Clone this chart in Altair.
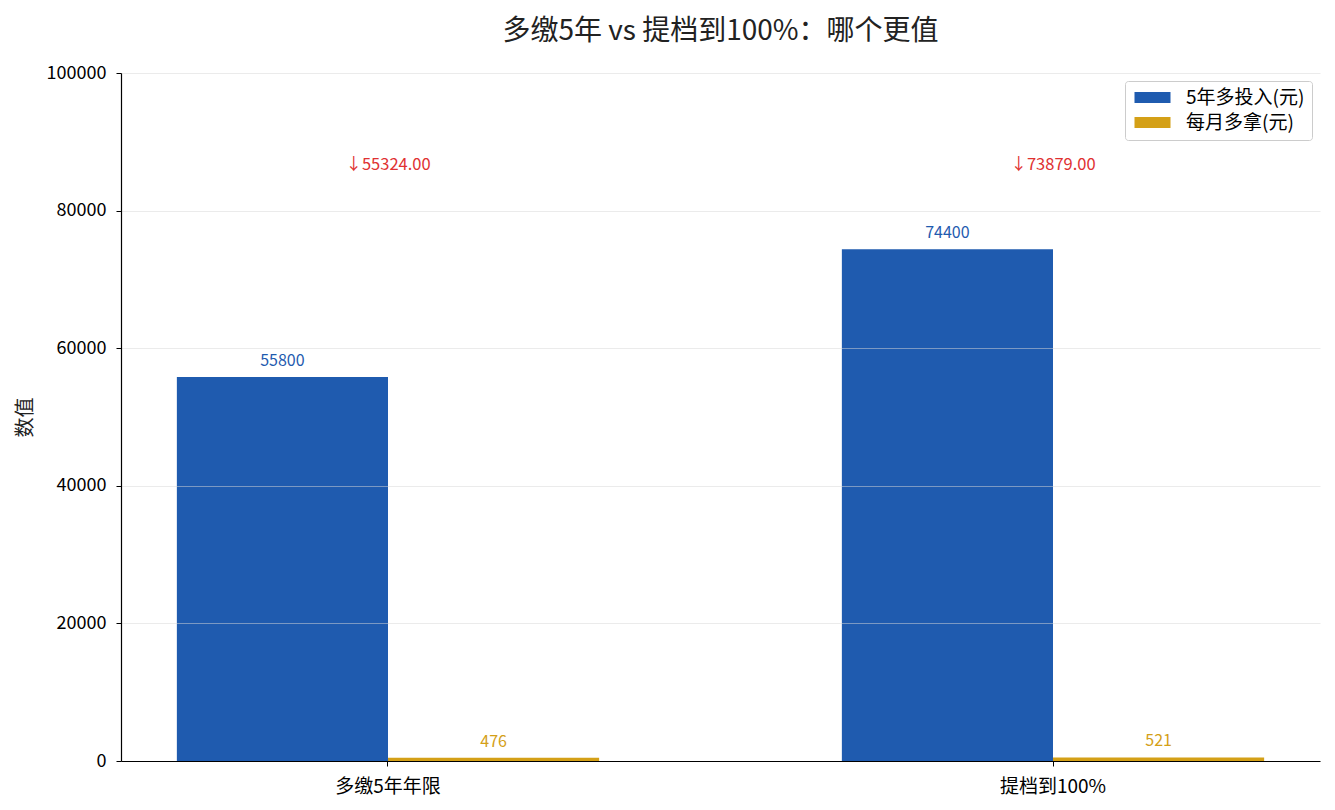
import altair as alt
import pandas as pd

categories = ["多缴5年年限", "提档到100%"]
series_names = ["5年多投入(元)", "每月多拿(元)"]
invest_5y = [55800, 74400]
monthly_gain = [476, 521]
diff_labels = ["↓55324.00", "↓73879.00"]
y_ticks = [0, 20000, 40000, 60000, 80000, 100000]

colors = ["#1f5baf", "#d4a017"]
FONT = "Noto Sans CJK SC"

rows = []
for i, c in enumerate(categories):
    rows.append({"cat": c, "series": series_names[0], "value": invest_5y[i]})
    rows.append({"cat": c, "series": series_names[1], "value": monthly_gain[i]})
df = pd.DataFrame(rows)
ann = pd.DataFrame({"cat": categories, "label": diff_labels,
                    "ypos": [max(invest_5y) * 1.164] * len(categories)})

color_scale = alt.Scale(domain=series_names, range=colors)
x_enc = alt.X("cat:N", sort=categories, title=None,
              scale=alt.Scale(paddingInner=0.365, paddingOuter=0.084),
              axis=alt.Axis(labelAngle=0, labelFontSize=19, labelFont=FONT, labelColor="#000",
                            domainColor="#000", domainWidth=1.2, tickColor="#000", tickSize=5,
                            labelPadding=11, grid=False, zindex=1))
y_scale = alt.Scale(domain=[0, 100000], nice=False)
xoff = alt.XOffset("series:N", sort=series_names, scale=alt.Scale(paddingInner=0, paddingOuter=0))

bars = alt.Chart(df).mark_bar().encode(
    x=x_enc,
    xOffset=xoff,
    y=alt.Y("value:Q", scale=y_scale, title="数值",
            axis=alt.Axis(values=y_ticks, format="d", labelFontSize=18, labelFont=FONT, labelColor="#000",
                          domainColor="#000", domainWidth=1.2, tickColor="#000", tickSize=5,
                          labelPadding=10, gridColor="#d8d8d8", gridOpacity=0.5, gridWidth=1,
                          titleFontSize=20, titleFont=FONT, titleColor="#222", titleFontWeight="normal",
                          titleX=-96, titleY=344, titleAlign="center", titleBaseline="middle",
                          zindex=1)),
    color=alt.Color("series:N", scale=color_scale, sort=series_names,
                    legend=alt.Legend(title=None, orient="top-right", offset=8,
                                      symbolType="M-2,-0.6L2,-0.6L2,0.6L-2,0.6Z", symbolSize=324,
                                      symbolOffset=11, symbolStrokeWidth=0,
                                      labelFontSize=19, labelFont=FONT,
                                      labelColor="#000", labelOffset=24, rowPadding=5,
                                      padding=7, strokeColor="#cccccc", fillColor="white",
                                      cornerRadius=3)),
)

vals = alt.Chart(df).mark_text(baseline="alphabetic", dy=-11, fontSize=16, font=FONT).encode(
    x=alt.X("cat:N", sort=categories),
    xOffset=xoff,
    y=alt.Y("value:Q", scale=y_scale),
    text=alt.Text("value:Q", format="d"),
    color=alt.Color("series:N", scale=color_scale, sort=series_names, legend=None),
)

red = alt.Chart(ann).mark_text(baseline="middle", fontSize=16.5, font=FONT, color="#e03131").encode(
    x=alt.X("cat:N", sort=categories),
    y=alt.Y("ypos:Q", scale=y_scale),
    text="label:N",
)

chart = alt.layer(bars, vals, red).properties(
    width=1199, height=688,
    title=alt.Title("多缴5年 vs 提档到100%：哪个更值", fontSize=28, font=FONT, color="#222",
                    fontWeight="normal", anchor="middle", offset=18),
    autosize=alt.AutoSizeParams(type="none"),
    padding={"left": 113, "top": 65, "right": 7, "bottom": 41},
).configure_view(stroke=None)

chart.save("out.html", embed_options={"renderer": "svg", "actions": False})
